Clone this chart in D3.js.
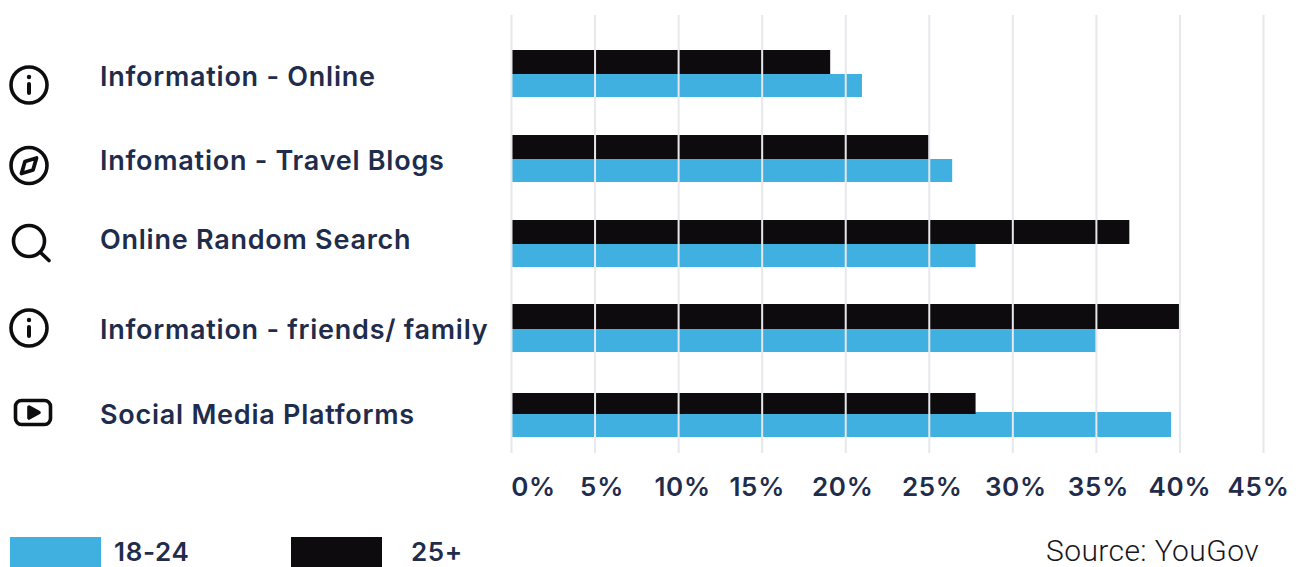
<!DOCTYPE html>
<html>
<head>
<meta charset="utf-8">
<script src="https://cdn.jsdelivr.net/npm/d3@7/dist/d3.min.js"></script>
<style>
  html, body { margin: 0; padding: 0; background: #fff; overflow: hidden; }
  text { font-family: Inter, "Noto Sans", sans-serif; fill: #1f2c4c; }
</style>
</head>
<body>
<svg id="chart" width="1299" height="567"></svg>
<script>
// Survey answers by age group, in percent
const categories = ["Information - Online", "Infomation - Travel Blogs", "Online Random Search", "Information - friends/ family", "Social Media Platforms"];
const youngValues = [21, 26.4, 27.8, 35, 39.5];
const olderValues = [19.1, 25, 37, 40, 27.8];
const tickValues = [0, 5, 10, 15, 20, 25, 30, 35, 40, 45];

// Row geometry: top of the dark bar, split between bars, bottom of the blue bar
const rowTops = [50, 135, 220, 304, 393];
const darkBottoms = [74, 159, 244, 329, 414];
const blueTops = [74, 159, 244, 329, 412];
const rowBottoms = [97, 182, 267, 352, 437];
const labelBaselines = [86, 169.5, 249, 339, 424];
const tickNudges = [22, 7, 4, -5, -3, 3, 3, 2, 0, -5];

const BLUE = "#3fb0df", DARK = "#0e0b0f", GRID = "#e6e8ec";

const svg = d3.select("#chart");
const x = d3.scaleLinear().domain([0, 45]).range([511, 1263]);
const at = (list) => d3.scaleOrdinal().domain(categories).range(list);
const yTop = at(rowTops), yDarkEnd = at(darkBottoms), yBlueStart = at(blueTops), yBottom = at(rowBottoms), yLabel = at(labelBaselines);

// Blue bars sit under the dark ones
svg.append("g").selectAll("rect").data(categories).join("rect")
  .attr("x", x(0))
  .attr("y", d => yBlueStart(d))
  .attr("width", (d, i) => x(youngValues[i]) - x(0))
  .attr("height", d => yBottom(d) - yBlueStart(d))
  .attr("fill", BLUE);

svg.append("g").selectAll("rect").data(categories).join("rect")
  .attr("x", x(0))
  .attr("y", d => yTop(d))
  .attr("width", (d, i) => x(olderValues[i]) - x(0))
  .attr("height", d => yDarkEnd(d) - yTop(d))
  .attr("fill", DARK);

// Gridlines run over the bars; tick labels come from the axis
const axis = d3.axisBottom(x).tickValues(tickValues).tickFormat(d => d + "%").tickSize(0).tickPadding(0);
const axisG = svg.append("g").attr("transform", "translate(0,453)").call(axis);
axisG.select(".domain").remove();
axisG.selectAll(".tick text")
  .attr("dx", (d, i) => tickNudges[i])
  .attr("y", 43)
  .attr("dy", 0)
  .style("font-family", "Inter, sans-serif")
  .style("font-size", "26px")
  .style("font-weight", 600)
  .style("letter-spacing", "0.7px");
axisG.selectAll(".tick").append("line")
  .attr("y1", -438).attr("y2", 0)
  .attr("stroke", GRID).attr("stroke-width", 2);

// Category labels
svg.append("g").selectAll("text").data(categories).join("text")
  .attr("x", 100)
  .attr("y", d => yLabel(d))
  .attr("font-size", 27)
  .attr("font-weight", 600)
  .attr("letter-spacing", 0.75)
  .text(d => d);

// Row icons
const INK = "#0d0d10";
const icons = svg.append("g").attr("fill", "none").attr("stroke", INK).attr("stroke-width", 3.6).attr("stroke-linecap", "round").attr("stroke-linejoin", "round");
function infoIcon(cx, cy) {
  icons.append("circle").attr("cx", cx).attr("cy", cy).attr("r", 18);
  icons.append("line").attr("x1", cx).attr("x2", cx).attr("y1", cy - 1).attr("y2", cy + 8).attr("stroke-width", 4);
  icons.append("circle").attr("cx", cx).attr("cy", cy - 8).attr("r", 2.2).attr("fill", INK).attr("stroke", "none");
}
infoIcon(29, 85);
infoIcon(29, 328);
icons.append("circle").attr("cx", 29).attr("cy", 165.5).attr("r", 18);
icons.append("path").attr("d", "M36.5 158 L33 170 L21.5 173.5 L25 161.5 Z").attr("stroke-width", 3.8);
icons.append("circle").attr("cx", 29).attr("cy", 241).attr("r", 15.5);
icons.append("line").attr("x1", 40).attr("y1", 252).attr("x2", 49).attr("y2", 260.5);
icons.append("rect").attr("x", 15.5).attr("y", 400.5).attr("width", 35).attr("height", 24).attr("rx", 6);
icons.append("path").attr("d", "M29 407 L39 412.5 L29 418 Z").attr("fill", INK);

// Legend
const legendItems = ["18-24", "25+"];
const legendColors = [BLUE, DARK];
const legendSwatchX = [10, 291];
const legendTextX = [114, 411];
const legend = svg.append("g");
legend.selectAll("rect").data(legendItems).join("rect")
  .attr("x", (d, i) => legendSwatchX[i]).attr("y", 537).attr("width", 91).attr("height", 30)
  .attr("fill", (d, i) => legendColors[i]);
legend.selectAll("text").data(legendItems).join("text")
  .attr("x", (d, i) => legendTextX[i]).attr("y", 560.5)
  .attr("font-size", 26).attr("font-weight", 600).attr("letter-spacing", 0.66)
  .text(d => d);

// Source credit
svg.append("text")
  .attr("x", 1046).attr("y", 561)
  .style("font-family", "Roboto, sans-serif")
  .style("fill", "#16161c")
  .attr("font-size", 30).attr("font-weight", 300)
  .attr("letter-spacing", 0.4)
  .text("Source: YouGov");
</script>
</body>
</html>
